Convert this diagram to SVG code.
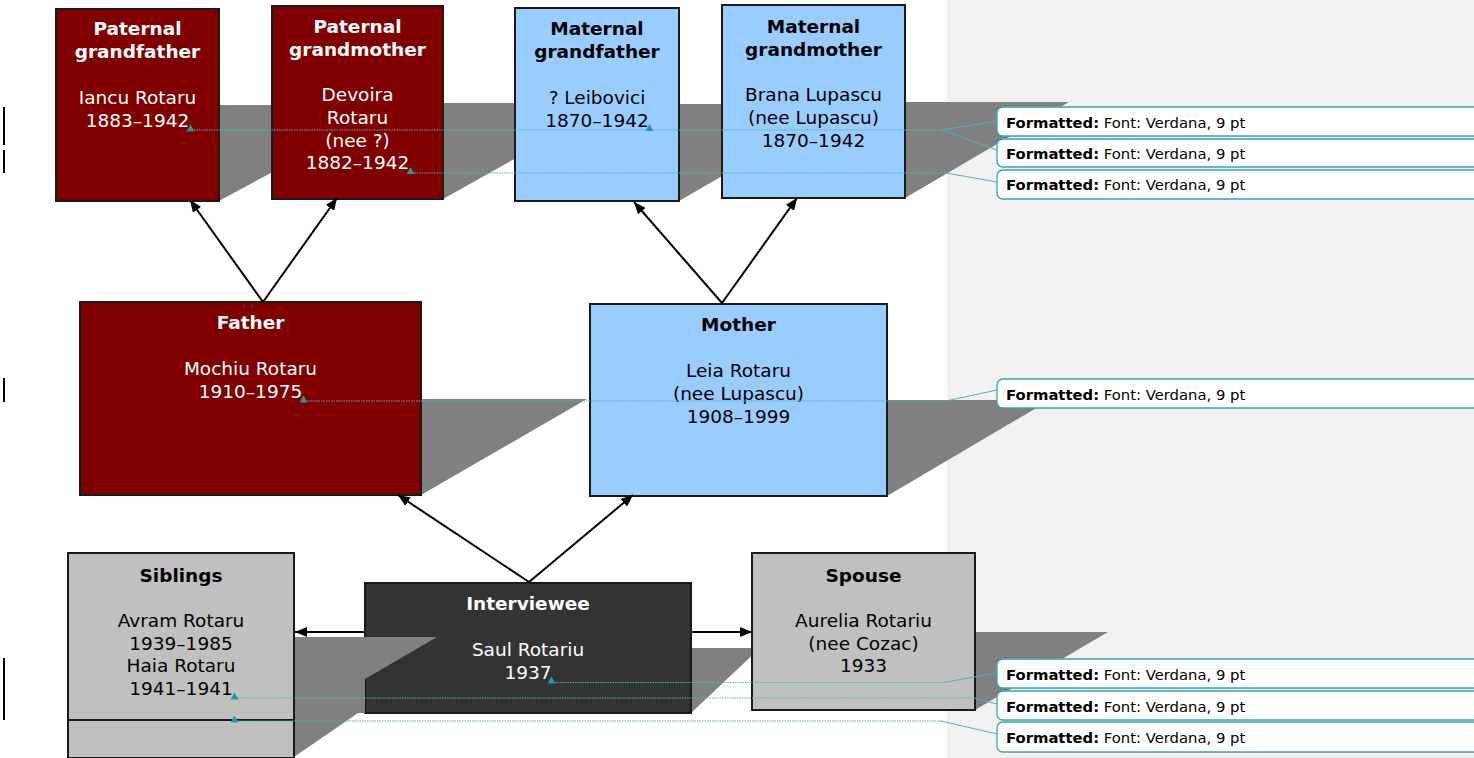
<svg xmlns="http://www.w3.org/2000/svg" width="1474" height="758" viewBox="0 0 1474 758">
<defs>
<style>
.panel{fill:#f1f1f1}
.sh{fill:#808080}
.box{stroke:#1a1a1a;stroke-width:2}
.maroon{fill:#800000}
.blue{fill:#99ccff}
.grey{fill:#c0c0c0}
.dark{fill:#333333}
.t{font-family:"DejaVu Sans",Verdana,sans-serif;font-size:18.5px;text-anchor:middle}
.b{font-weight:bold}
.w{fill:#ffffff}
.k{fill:#000000}
.conn{stroke:#000;stroke-width:2;fill:none}
.cl{stroke:#4db3be;stroke-width:1;fill:none}
.cld{stroke:#4db3be;stroke-width:1.2;fill:none;stroke-dasharray:1.5 1}
.mk{fill:#1f9aa6}
.call{fill:#ffffff;stroke:#35a7b3;stroke-width:1.3}
.ct{font-family:"DejaVu Sans",Verdana,sans-serif;font-size:14.8px;fill:#000}
.bar{fill:#000}
</style>
<marker id="arr" viewBox="0 0 12 10" refX="12" refY="5" markerWidth="12" markerHeight="10" markerUnits="userSpaceOnUse" orient="auto">
<path d="M0,0 L12,5 L0,10 Z" fill="#000"/>
</marker>
</defs>

<rect class="panel" x="947" y="0" width="527" height="758"/>

<g id="shadows">
<polygon class="sh" points="219,105 397,105 219,201"/>
<polygon class="sh" points="443,103 614,103 443,199"/>
<polygon class="sh" points="679,104 846,104 679,201"/>
<polygon class="sh" points="905,102 1069,102 905,198"/>
<polygon class="sh" points="421,399 587,399 421,495"/>
<polygon class="sh" points="887,400 1050,400 887,496"/>
<polygon class="sh" points="691,648 760,648 691,713"/>
<polygon class="sh" points="975,632 1108,632 975,710"/>
</g>

<g id="paternal-grandfather">
<rect class="box maroon" x="56" y="9" width="163" height="192"/>
<text class="t b w" x="137.5" y="35">Paternal</text>
<text class="t b w" x="137.5" y="58">grandfather</text>
<text class="t w" x="137.5" y="104">Iancu Rotaru</text>
<text class="t w" x="137.5" y="127">1883–1942</text>
</g>

<g id="paternal-grandmother">
<rect class="box maroon" x="272" y="6" width="171" height="193"/>
<text class="t b w" x="357.5" y="33">Paternal</text>
<text class="t b w" x="357.5" y="55.7">grandmother</text>
<text class="t w" x="357.5" y="101.1">Devoira</text>
<text class="t w" x="357.5" y="123.8">Rotaru</text>
<text class="t w" x="357.5" y="146.5">(nee ?)</text>
<text class="t w" x="357.5" y="169">1882–1942</text>
</g>

<g id="maternal-grandfather">
<rect class="box blue" x="515" y="8" width="164" height="193"/>
<text class="t b k" x="597" y="35">Maternal</text>
<text class="t b k" x="597" y="58">grandfather</text>
<text class="t k" x="597" y="104">? Leibovici</text>
<text class="t k" x="597" y="127">1870–1942</text>
</g>

<g id="maternal-grandmother">
<rect class="box blue" x="722" y="5" width="183" height="193"/>
<text class="t b k" x="813.5" y="33">Maternal</text>
<text class="t b k" x="813.5" y="55.7">grandmother</text>
<text class="t k" x="813.5" y="101.1">Brana Lupascu</text>
<text class="t k" x="813.5" y="123.8">(nee Lupascu)</text>
<text class="t k" x="813.5" y="146.5">1870–1942</text>
</g>

<g id="father">
<rect class="box maroon" x="80" y="302" width="341" height="193"/>
<text class="t b w" x="250.5" y="329">Father</text>
<text class="t w" x="250.5" y="375">Mochiu Rotaru</text>
<text class="t w" x="250.5" y="398">1910–1975</text>
</g>

<g id="mother">
<rect class="box blue" x="590" y="304" width="297" height="192"/>
<text class="t b k" x="738.5" y="331">Mother</text>
<text class="t k" x="738.5" y="377">Leia Rotaru</text>
<text class="t k" x="738.5" y="400">(nee Lupascu)</text>
<text class="t k" x="738.5" y="423">1908–1999</text>
</g>

<g id="interviewee">
<rect class="box dark" x="365" y="583" width="326" height="130"/>
<text class="t b w" x="528" y="610">Interviewee</text>
<text class="t w" x="528" y="656">Saul Rotariu</text>
<text class="t w" x="528" y="678.5">1937</text>
</g>

<g id="spouse">
<rect class="box grey" x="752" y="553" width="223" height="157"/>
<text class="t b k" x="863.5" y="582">Spouse</text>
<text class="t k" x="863.5" y="627">Aurelia Rotariu</text>
<text class="t k" x="863.5" y="649.5">(nee Cozac)</text>
<text class="t k" x="863.5" y="672">1933</text>
</g>

<polygon class="sh" points="294,637 437,637 365,679 365,713 358,713 294,757"/>

<g id="siblings">
<rect class="box grey" x="68" y="553" width="226" height="167"/>
<rect class="box grey" x="68" y="720" width="226" height="38"/>
<text class="t b k" x="181" y="582">Siblings</text>
<text class="t k" x="181" y="627">Avram Rotaru</text>
<text class="t k" x="181" y="649.5">1939–1985</text>
<text class="t k" x="181" y="672">Haia Rotaru</text>
<text class="t k" x="181" y="694.5">1941–1941</text>
</g>

<g id="connectors">
<line class="conn" x1="263" y1="302" x2="190" y2="200" marker-end="url(#arr)"/>
<line class="conn" x1="263" y1="302" x2="337" y2="198" marker-end="url(#arr)"/>
<line class="conn" x1="722" y1="303" x2="634" y2="202" marker-end="url(#arr)"/>
<line class="conn" x1="722" y1="303" x2="797" y2="198" marker-end="url(#arr)"/>
<line class="conn" x1="529" y1="582" x2="398" y2="495" marker-end="url(#arr)"/>
<line class="conn" x1="529" y1="582" x2="633" y2="495" marker-end="url(#arr)"/>
<line class="conn" x1="365" y1="632" x2="295" y2="632" marker-end="url(#arr)"/>
<line class="conn" x1="691" y1="632" x2="752" y2="632" marker-end="url(#arr)"/>
</g>

<g id="comment-lines">
<polyline class="cld" points="194,130 942,130"/>
<polyline class="cl" points="942,130 997,121"/>
<polyline class="cl" points="942,130 997,150"/>
<polyline class="cld" points="414,173 946,173"/>
<polyline class="cl" points="946,173 997,182"/>
<polyline class="cld" points="306,401 946,401"/>
<polyline class="cl" points="946,401 997,390"/>
<polyline class="cld" points="555,682.5 943,682.5"/>
<polyline class="cl" points="943,682.5 997,673"/>
<polyline class="cld" points="237,698 974,698"/>
<polyline class="cl" points="974,698 997,704"/>
<polyline class="cld" points="237,721 941,721"/>
<polyline class="cl" points="941,721 997,734"/>
<polygon class="mk" points="186.5,131.5 194.5,131.5 190.5,124.5"/>
<polygon class="mk" points="406.5,174 414.5,174 410.5,167"/>
<polygon class="mk" points="645.5,131 653.5,131 649.5,124"/>
<polygon class="mk" points="299.5,402.5 307.5,402.5 303.5,395.5"/>
<polygon class="mk" points="547.5,683.5 555.5,683.5 551.5,676.5"/>
<polygon class="mk" points="230.5,699.5 238.5,699.5 234.5,692.5"/>
<polygon class="mk" points="230.5,722.5 238.5,722.5 234.5,715.5"/>
</g>

<g id="callouts">
<rect class="call" x="997" y="107" width="500" height="29" rx="6"/>
<text class="ct" x="1006" y="128"><tspan font-weight="bold">Formatted:</tspan> Font: Verdana, 9 pt</text>
<rect class="call" x="997" y="139" width="500" height="28" rx="6"/>
<text class="ct" x="1006" y="159"><tspan font-weight="bold">Formatted:</tspan> Font: Verdana, 9 pt</text>
<rect class="call" x="997" y="170" width="500" height="29" rx="6"/>
<text class="ct" x="1006" y="190"><tspan font-weight="bold">Formatted:</tspan> Font: Verdana, 9 pt</text>
<rect class="call" x="997" y="379" width="500" height="29" rx="6"/>
<text class="ct" x="1006" y="400"><tspan font-weight="bold">Formatted:</tspan> Font: Verdana, 9 pt</text>
<rect class="call" x="997" y="659" width="500" height="29" rx="6"/>
<text class="ct" x="1006" y="680"><tspan font-weight="bold">Formatted:</tspan> Font: Verdana, 9 pt</text>
<rect class="call" x="997" y="691" width="500" height="29" rx="6"/>
<text class="ct" x="1006" y="712"><tspan font-weight="bold">Formatted:</tspan> Font: Verdana, 9 pt</text>
<rect class="call" x="997" y="722" width="500" height="30" rx="6"/>
<text class="ct" x="1006" y="743"><tspan font-weight="bold">Formatted:</tspan> Font: Verdana, 9 pt</text>
</g>

<g id="change-bars">
<rect class="bar" x="3" y="107" width="2" height="38"/>
<rect class="bar" x="3" y="150" width="2" height="23"/>
<rect class="bar" x="3" y="378" width="2" height="24"/>
<rect class="bar" x="3" y="658" width="2" height="62"/>
</g>
</svg>
